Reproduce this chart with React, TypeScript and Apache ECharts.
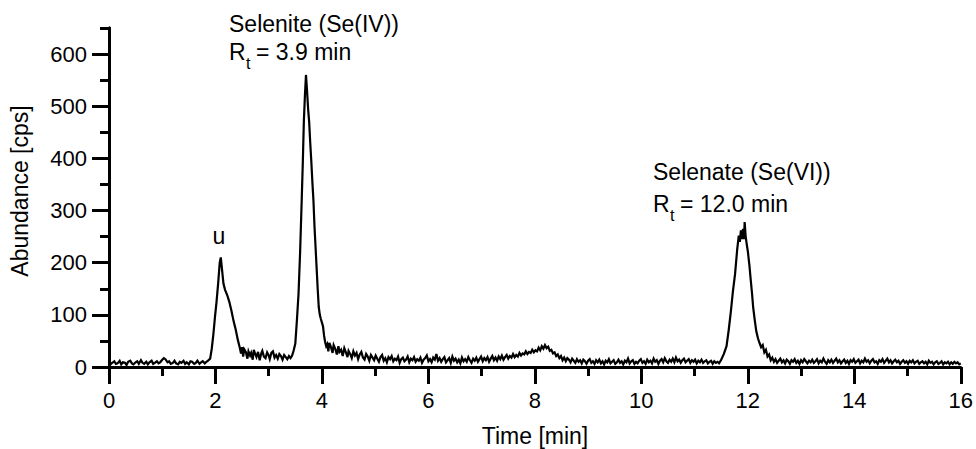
import React, { useEffect, useRef } from "react";
import * as echarts from "echarts";

// Chromatogram trace: [time (min), abundance (cps)]
const baselineStart: [number, number][] = [
  [0.0, 9], [0.03, 5], [0.06, 8], [0.1, 11], [0.13, 6], [0.16, 7], [0.2, 12], [0.23, 5], [0.26, 9], [0.3, 8],
  [0.33, 4], [0.36, 10], [0.4, 12], [0.43, 7], [0.46, 5], [0.5, 9], [0.53, 11], [0.56, 6], [0.6, 13], [0.63, 8],
  [0.66, 6], [0.7, 10], [0.73, 5], [0.76, 9], [0.8, 12], [0.83, 6], [0.86, 8], [0.9, 11], [0.93, 7], [0.96, 9],
  [1.0, 14], [1.03, 17], [1.06, 15], [1.1, 9], [1.13, 11], [1.16, 6], [1.2, 8], [1.23, 12], [1.26, 7], [1.3, 5],
  [1.33, 10], [1.36, 8], [1.4, 12], [1.43, 6], [1.46, 9], [1.5, 5], [1.53, 11], [1.56, 10], [1.6, 6], [1.63, 8],
  [1.66, 12], [1.7, 6], [1.73, 9], [1.76, 11], [1.8, 7], [1.83, 10], [1.86, 12], [1.9, 16],
];
const peakUnknown: [number, number][] = [
  [1.93, 35], [1.96, 62], [1.99, 95], [2.02, 125], [2.05, 160], [2.08, 200], [2.1, 210], [2.12, 190],
  [2.15, 160], [2.18, 148], [2.22, 138], [2.26, 125], [2.3, 108], [2.34, 88], [2.38, 72], [2.42, 52],
  [2.45, 40], [2.48, 26], [2.5, 38], [2.52, 20], [2.54, 34], [2.57, 29], [2.6, 16], [2.62, 30],
];
const betweenPeaks: [number, number][] = [
  [2.65, 22], [2.67, 27], [2.7, 14], [2.72, 33], [2.75, 24], [2.77, 19], [2.8, 29], [2.83, 13], [2.86, 26],
  [2.88, 31], [2.91, 20], [2.94, 17], [2.97, 28], [3.0, 22], [3.02, 15], [3.05, 27], [3.08, 30], [3.11, 18],
  [3.14, 23], [3.17, 16], [3.2, 25], [3.23, 21], [3.26, 14], [3.29, 23], [3.32, 19], [3.35, 15], [3.38, 21],
  [3.41, 17], [3.44, 22], [3.47, 32],
];
const peakSelenite: [number, number][] = [
  [3.5, 45], [3.53, 90], [3.56, 140], [3.59, 220], [3.62, 320], [3.64, 390], [3.66, 470], [3.68, 520],
  [3.7, 560], [3.72, 530], [3.74, 495], [3.76, 470], [3.78, 430], [3.8, 395], [3.82, 355], [3.84, 320],
  [3.86, 270], [3.88, 230], [3.9, 190], [3.92, 150], [3.94, 115], [3.96, 100], [3.98, 92], [4.0, 85],
  [4.02, 78], [4.04, 60], [4.06, 48], [4.08, 40], [4.1, 44],
];
const tailMiddle: [number, number][] = [
  [4.12, 30], [4.14, 46], [4.17, 38], [4.2, 27], [4.22, 42], [4.25, 35], [4.28, 24], [4.31, 40], [4.33, 29],
  [4.36, 33], [4.39, 21], [4.42, 36], [4.45, 28], [4.48, 19], [4.5, 31], [4.53, 25], [4.56, 17], [4.59, 30],
  [4.62, 22], [4.65, 27], [4.68, 15], [4.71, 24], [4.74, 29], [4.77, 18], [4.8, 14], [4.83, 25], [4.86, 20],
  [4.89, 12], [4.92, 23], [4.95, 18], [4.98, 13], [5.01, 22], [5.04, 16], [5.07, 10], [5.1, 19], [5.13, 23],
  [5.16, 12], [5.19, 17], [5.22, 9], [5.25, 19], [5.28, 15], [5.31, 21], [5.34, 11], [5.37, 16], [5.4, 13],
  [5.43, 20], [5.46, 8], [5.49, 15], [5.52, 18], [5.55, 11], [5.58, 14], [5.61, 20], [5.64, 9], [5.67, 16],
  [5.7, 13], [5.73, 19], [5.76, 10], [5.79, 15], [5.82, 12], [5.85, 18], [5.88, 8], [5.91, 14], [5.94, 17],
  [5.97, 22], [6.0, 11], [6.03, 15], [6.06, 9], [6.09, 18], [6.12, 14], [6.15, 25], [6.18, 12], [6.21, 17],
  [6.24, 10], [6.27, 15], [6.3, 19], [6.33, 9], [6.36, 13], [6.39, 17], [6.42, 8], [6.45, 20], [6.48, 12],
  [6.51, 16], [6.54, 9], [6.57, 14], [6.6, 7], [6.63, 18], [6.66, 11], [6.69, 15], [6.72, 10], [6.75, 19],
  [6.78, 13], [6.81, 8], [6.84, 16], [6.87, 12], [6.9, 18], [6.93, 10], [6.96, 15], [6.99, 20], [7.02, 11],
  [7.05, 17], [7.08, 13], [7.11, 19], [7.14, 10], [7.17, 16], [7.2, 21], [7.23, 13], [7.26, 18], [7.29, 12],
  [7.32, 20], [7.35, 15], [7.38, 22], [7.41, 14], [7.44, 19], [7.47, 23], [7.5, 16], [7.53, 21], [7.56, 18],
  [7.59, 25], [7.62, 19], [7.65, 23], [7.68, 20], [7.71, 27], [7.74, 22], [7.77, 26], [7.8, 24], [7.83, 30],
  [7.86, 25], [7.89, 29], [7.92, 27], [7.95, 33], [7.98, 28], [8.01, 32], [8.04, 30], [8.07, 37], [8.1, 32],
  [8.13, 40], [8.16, 35], [8.19, 42], [8.22, 36], [8.25, 39], [8.28, 31], [8.31, 33], [8.34, 26], [8.37, 28],
  [8.4, 21], [8.43, 24], [8.46, 17], [8.49, 21], [8.52, 13], [8.55, 18], [8.58, 11], [8.61, 17], [8.64, 14],
  [8.67, 9], [8.7, 16], [8.73, 12], [8.76, 8], [8.79, 15], [8.82, 10], [8.85, 13], [8.88, 7], [8.91, 14],
  [8.94, 11], [8.97, 6], [9.0, 12], [9.03, 15], [9.06, 8], [9.09, 11], [9.12, 6], [9.15, 13], [9.18, 9],
  [9.21, 14], [9.24, 7], [9.27, 11], [9.3, 5], [9.33, 12], [9.36, 9], [9.39, 15], [9.42, 7], [9.45, 10],
  [9.48, 13], [9.51, 6], [9.54, 9], [9.57, 14], [9.6, 8], [9.63, 11], [9.66, 5], [9.69, 12], [9.72, 9],
  [9.75, 16], [9.78, 7], [9.81, 11], [9.84, 13], [9.87, 6], [9.9, 10], [9.93, 7], [9.96, 12], [9.99, 15],
  [10.02, 8], [10.05, 11], [10.08, 6], [10.11, 14], [10.14, 9], [10.17, 12], [10.2, 7], [10.23, 16],
  [10.26, 10], [10.29, 13], [10.32, 6], [10.35, 12], [10.38, 15], [10.41, 9], [10.44, 17], [10.47, 11],
  [10.5, 8], [10.53, 14], [10.56, 10], [10.59, 16], [10.62, 9], [10.65, 18], [10.68, 11], [10.71, 14],
  [10.74, 8], [10.77, 13], [10.8, 16], [10.83, 9], [10.86, 12], [10.89, 15], [10.92, 8], [10.95, 13],
  [10.98, 10], [11.01, 14], [11.04, 7], [11.07, 12], [11.1, 9], [11.13, 14], [11.16, 8], [11.19, 11],
  [11.22, 13], [11.25, 7], [11.28, 10], [11.31, 12], [11.34, 6], [11.37, 11], [11.4, 8], [11.43, 10], [11.46, 7],
];
const peakSelenate: [number, number][] = [
  [11.5, 14], [11.55, 25], [11.6, 40], [11.64, 70], [11.68, 105], [11.72, 145], [11.76, 178], [11.8, 225],
  [11.83, 252], [11.85, 240], [11.87, 262], [11.89, 245], [11.91, 265], [11.93, 245], [11.94, 278],
  [11.96, 250], [11.98, 235], [12.0, 222], [12.03, 195], [12.05, 172], [12.08, 140], [12.1, 115], [12.13, 90],
  [12.16, 68], [12.19, 55], [12.22, 46], [12.25, 38], [12.28, 42], [12.31, 28], [12.34, 33], [12.37, 20], [12.4, 24],
];
const baselineEnd: [number, number][] = [
  [12.43, 13], [12.46, 18], [12.49, 10], [12.52, 15], [12.55, 8], [12.58, 12], [12.61, 16], [12.64, 9],
  [12.67, 13], [12.7, 7], [12.73, 14], [12.76, 11], [12.79, 6], [12.82, 13], [12.85, 10], [12.88, 15],
  [12.91, 8], [12.94, 12], [12.97, 6], [13.0, 13], [13.03, 9], [13.06, 15], [13.09, 11], [13.12, 7],
  [13.15, 12], [13.18, 9], [13.21, 14], [13.24, 8], [13.27, 11], [13.3, 15], [13.33, 7], [13.36, 12],
  [13.39, 9], [13.42, 16], [13.45, 10], [13.48, 6], [13.51, 13], [13.54, 9], [13.57, 14], [13.6, 8],
  [13.63, 12], [13.66, 16], [13.69, 9], [13.72, 13], [13.75, 7], [13.78, 11], [13.81, 14], [13.84, 8],
  [13.87, 12], [13.9, 6], [13.93, 13], [13.96, 10], [13.99, 15], [14.02, 8], [14.05, 11], [14.08, 14],
  [14.11, 7], [14.14, 12], [14.17, 9], [14.2, 16], [14.23, 10], [14.26, 13], [14.29, 7], [14.32, 12],
  [14.35, 15], [14.38, 9], [14.41, 11], [14.44, 6], [14.47, 13], [14.5, 10], [14.53, 15], [14.56, 8],
  [14.59, 12], [14.62, 16], [14.65, 9], [14.68, 13], [14.71, 7], [14.74, 11], [14.77, 14], [14.8, 9],
  [14.83, 12], [14.86, 6], [14.89, 10], [14.92, 13], [14.95, 8], [14.98, 11], [15.01, 6], [15.04, 12],
  [15.07, 9], [15.1, 13], [15.13, 7], [15.16, 10], [15.19, 12], [15.22, 6], [15.25, 9], [15.28, 11],
  [15.31, 7], [15.34, 10], [15.37, 5], [15.4, 12], [15.43, 8], [15.46, 10], [15.49, 5], [15.52, 9],
  [15.55, 11], [15.58, 6], [15.61, 8], [15.64, 11], [15.67, 5], [15.7, 9], [15.73, 7], [15.76, 10],
  [15.79, 5], [15.82, 9], [15.85, 6], [15.88, 10], [15.91, 7], [15.94, 9], [15.97, 5], [16.0, 7],
];

const xTicks = [0, 2, 4, 6, 8, 10, 12, 14, 16];
const yMajorTicks = [0, 100, 200, 300, 400, 500, 600];
const yMinorTicks = [50, 150, 250, 350, 450, 550, 650];

const FONT = "'Liberation Sans', Arial, Helvetica, sans-serif";

export default function App() {
  const ref = useRef<HTMLDivElement>(null);

  useEffect(() => {
    if (!ref.current) return;
    const chart = echarts.init(ref.current, undefined, { renderer: "svg" });
    const trace = [
      ...baselineStart,
      ...peakUnknown,
      ...betweenPeaks,
      ...peakSelenite,
      ...tailMiddle,
      ...peakSelenate,
      ...baselineEnd,
    ];
    const axisLine = { show: true, lineStyle: { color: "#000", width: 3 } };
    const txt = (x: number, y: number, text: string, size = 23, align = "left") => ({
      type: "text",
      x,
      y,
      style: { text, fill: "#000", font: `${size}px ${FONT}`, align, verticalAlign: "middle" },
    });
    chart.setOption({
      animation: false,
      backgroundColor: "#fff",
      grid: { left: 109, right: 15, top: 28, bottom: 82, containLabel: false },
      xAxis: {
        type: "value",
        min: 0,
        max: 16,
        interval: 2,
        axisLine: { ...axisLine, onZero: false },
        axisTick: { show: true, length: 17, lineStyle: { color: "#000", width: 3 }, customValues: xTicks },
        minorTick: { show: true, splitNumber: 2, length: 9, lineStyle: { color: "#000", width: 3 } },
        axisLabel: {
          color: "#000",
          fontFamily: FONT,
          fontSize: 22,
          margin: 22,
          customValues: xTicks,
        },
        splitLine: { show: false },
      },
      yAxis: [
        {
          type: "value",
          min: 0,
          max: 650,
          interval: 100,
          axisLine: { ...axisLine, onZero: false },
          axisTick: { show: true, length: 17, lineStyle: { color: "#000", width: 3 }, customValues: yMajorTicks },
          axisLabel: {
            color: "#000",
            fontFamily: FONT,
            fontSize: 22,
            margin: 22,
            customValues: yMajorTicks,
          },
          splitLine: { show: false },
        },
        {
          type: "value",
          min: 0,
          max: 650,
          interval: 50,
          position: "left",
          axisLine: { ...axisLine, onZero: false },
          axisTick: { show: true, length: 9, lineStyle: { color: "#000", width: 3 }, customValues: yMinorTicks },
          axisLabel: { show: false },
          splitLine: { show: false },
        },
      ],
      series: [
        {
          type: "line",
          data: trace,
          showSymbol: false,
          symbol: "none",
          lineStyle: { color: "#000", width: 2.2, join: "miter" },
          yAxisIndex: 0,
        },
      ],
      graphic: [
        {
          type: "text",
          x: 20,
          y: 191,
          rotation: Math.PI / 2,
          style: { text: "Abundance [cps]", fill: "#000", font: `23px ${FONT}`, align: "center", verticalAlign: "middle" },
        },
        txt(535, 436, "Time [min]", 23, "center"),
        txt(229, 23.5, "Selenite (Se(IV))"),
        txt(229, 51.5, "R"),
        txt(246, 63, "t", 16),
        txt(256, 51.5, "= 3.9 min"),
        txt(219, 235.5, "u", 23, "center"),
        txt(653, 171.5, "Selenate (Se(VI))"),
        txt(653, 204, "R"),
        txt(670, 215.5, "t", 16),
        txt(680, 204, "= 12.0 min"),
      ],
    });
    return () => chart.dispose();
  }, []);

  return <div ref={ref} style={{ width: 976, height: 449, position: "absolute", left: 0, top: 0 }} />;
}
